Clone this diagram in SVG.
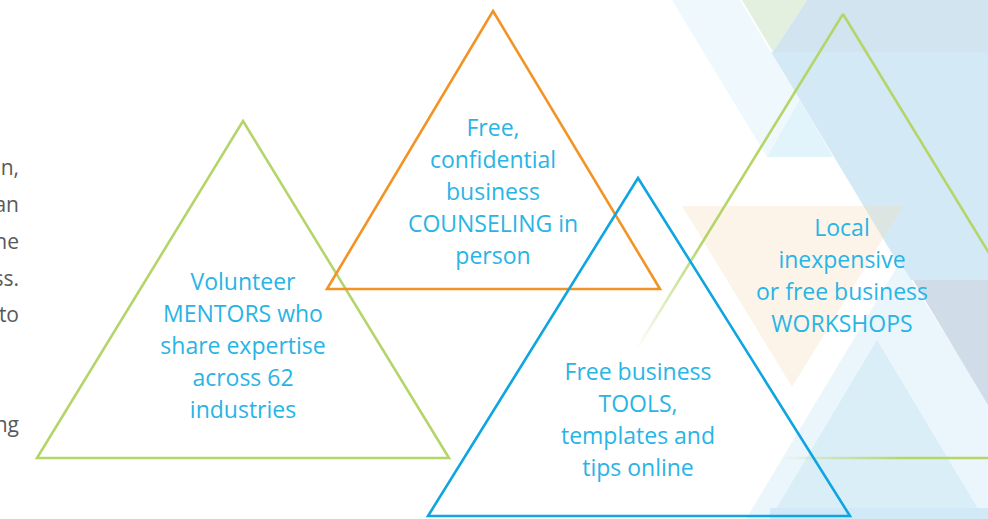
<svg xmlns="http://www.w3.org/2000/svg" width="988" height="519" viewBox="0 0 988 519">
  <defs>
    <style>
      .lbl { font-family: "Open Sans", "Noto Sans", sans-serif; font-size: 23px; fill: #29b4e6; text-anchor: middle; }
      .side { font-family: "Open Sans", "Noto Sans", sans-serif; font-size: 21px; fill: #58595b; text-anchor: end; }
      .tri { fill: none; stroke-width: 2.6; stroke-linejoin: miter; }
    </style>
    <linearGradient id="fadeLeft" gradientUnits="userSpaceOnUse" x1="843" y1="14" x2="636" y2="350">
      <stop offset="0" stop-color="#b5d56a" stop-opacity="1"/>
      <stop offset="0.68" stop-color="#b5d56a" stop-opacity="1"/>
      <stop offset="1" stop-color="#b5d56a" stop-opacity="0"/>
    </linearGradient>
    <linearGradient id="fadeBase" gradientUnits="userSpaceOnUse" x1="780" y1="458" x2="905" y2="458">
      <stop offset="0" stop-color="#b5d56a" stop-opacity="0"/>
      <stop offset="1" stop-color="#b5d56a" stop-opacity="1"/>
    </linearGradient>
  </defs>

  <rect width="988" height="519" fill="#ffffff"/>

  <!-- background shapes -->
  <g id="background">
    <polygon points="672,0 740,0 833,157 767,157" fill="#eff8fd"/>
    <polygon points="742,0 807,0 773,52" fill="#e4f0df"/>
    <polygon points="807,0 988,0 988,52 773,52" fill="#d1e4f0"/>
    <polygon points="771,52 988,52 988,280 908,280" fill="#d3eaf6"/>
    <polygon points="767,157 833,157 800,100" fill="#e2f4fb"/>
    <polygon points="900,262 1060,519 746,519" fill="#eaf6fc"/>
    <polygon points="913,280 988,280 988,405" fill="#d0dde9"/>
    <polygon points="877,340 984,519 770,519" fill="#daeef8"/>
    <rect x="770" y="508" width="218" height="11" fill="#d2eaf7"/>
    <polygon points="682,206 903,206 792,387" fill="#f5d9b5" fill-opacity="0.3"/>
  </g>

  <!-- left paragraph fragments (cut off at the left edge, as in the picture) -->
  <g id="side-text">
    <text class="side" x="19" y="175">n,</text>
    <text class="side" x="19" y="212">an</text>
    <text class="side" x="19" y="249">he</text>
    <text class="side" x="19" y="286">ss.</text>
    <text class="side" x="19" y="322">to</text>
    <text class="side" x="19" y="432">ng</text>
  </g>

  <g id="connectors"></g>

  <g id="node-workshops">
    <line x1="843" y1="14" x2="636" y2="350" stroke="url(#fadeLeft)" stroke-width="2.6"/>
    <line x1="843" y1="14" x2="1114" y2="458" stroke="#b5d56a" stroke-width="2.6"/>
    <line x1="780" y1="458" x2="988" y2="458" stroke="url(#fadeBase)" stroke-width="2.6"/>
    <text class="lbl" x="842" y="236">Local</text>
    <text class="lbl" x="842" y="268">inexpensive</text>
    <text class="lbl" x="842" y="300">or free business</text>
    <text class="lbl" x="842" y="332">WORKSHOPS</text>
  </g>

  <g id="node-mentors">
    <polygon class="tri" points="243,121 449,458 37,458" stroke="#b5d56a"/>
    <text class="lbl" x="243" y="290">Volunteer</text>
    <text class="lbl" x="243" y="322">MENTORS who</text>
    <text class="lbl" x="243" y="354">share expertise</text>
    <text class="lbl" x="243" y="386">across 62</text>
    <text class="lbl" x="243" y="418">industries</text>
  </g>

  <g id="node-counseling">
    <polygon class="tri" points="493,11 660,289 327,289" stroke="#f39324"/>
    <text class="lbl" x="493" y="136">Free,</text>
    <text class="lbl" x="493" y="168">confidential</text>
    <text class="lbl" x="493" y="200">business</text>
    <text class="lbl" x="493" y="232">COUNSELING in</text>
    <text class="lbl" x="493" y="264">person</text>
  </g>

  <g id="node-tools">
    <polygon class="tri" points="638,178 850,516 428,516" stroke="#0fa5e0"/>
    <text class="lbl" x="638" y="380">Free business</text>
    <text class="lbl" x="638" y="412">TOOLS,</text>
    <text class="lbl" x="638" y="444">templates and</text>
    <text class="lbl" x="638" y="476">tips online</text>
  </g>
</svg>
